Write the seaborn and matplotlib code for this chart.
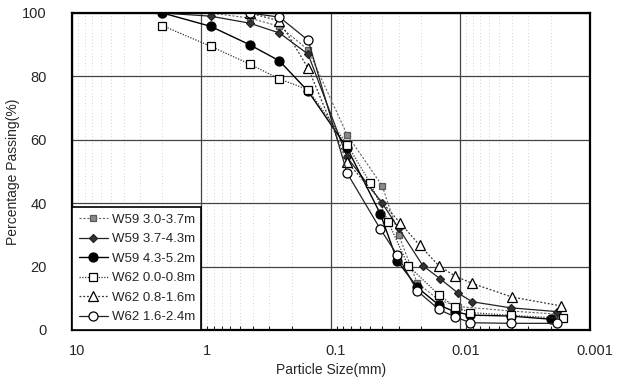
# grain size distribution curves, W59 / W62
import numpy as np
import pandas as pd
import matplotlib
matplotlib.use('Agg')
import matplotlib.pyplot as plt
import matplotlib.ticker as ticker
import matplotlib.transforms as mtransforms
import seaborn as sns

# data (particle size in mm, percent passing)
w59_30_size = [2.0, 0.85, 0.425, 0.25, 0.15, 0.075, 0.0402, 0.0300, 0.0216, 0.0147, 0.0104, 0.0041, 0.0018]
w59_30_pass = [100, 100, 98.4, 95.8, 88.4, 61.6, 45.5, 30.0, 14.9, 9.5, 7.4, 6.0, 5.0]

w59_37_size = [2.0, 0.85, 0.425, 0.25, 0.15, 0.075, 0.0402, 0.0300, 0.0195, 0.0143, 0.0104, 0.0081, 0.0041, 0.0018]
w59_37_pass = [100, 99.0, 96.8, 93.7, 87.0, 54.5, 40.0, 32.1, 20.3, 16.1, 11.6, 8.9, 7.0, 5.8]

w59_43_size = [2.0, 0.85, 0.425, 0.25, 0.15, 0.075, 0.0415, 0.0308, 0.0216, 0.0147, 0.0111, 0.0084, 0.0041, 0.0020]
w59_43_pass = [100, 95.8, 90.0, 84.9, 75.3, 57.4, 36.6, 21.9, 13.5, 7.9, 5.8, 4.7, 4.4, 3.4]

w62_00_size = [2.0, 0.85, 0.425, 0.25, 0.15, 0.075, 0.0496, 0.0362, 0.0253, 0.0147, 0.0111, 0.0084, 0.0041, 0.0016]
w62_00_pass = [96.0, 89.5, 83.9, 79.2, 75.8, 58.5, 46.3, 34.2, 20.3, 11.1, 7.4, 5.5, 4.6, 3.7]

w62_08_size = [0.425, 0.25, 0.15, 0.075, 0.0291, 0.0207, 0.0147, 0.0111, 0.0081, 0.0040, 0.00167]
w62_08_pass = [100, 97.5, 82.6, 53.0, 33.7, 26.8, 20.3, 17.1, 14.7, 10.4, 7.6]

w62_16_size = [0.425, 0.25, 0.15, 0.075, 0.0415, 0.0308, 0.0216, 0.0147, 0.0111, 0.0084, 0.0041, 0.0018]
w62_16_pass = [100, 98.7, 91.4, 49.5, 31.8, 23.7, 12.4, 6.5, 4.2, 2.3, 2.1, 2.1]

labels = ['W59 3.0-3.7m', 'W59 3.7-4.3m', 'W59 4.3-5.2m',
          'W62 0.0-0.8m', 'W62 0.8-1.6m', 'W62 1.6-2.4m']
sizes = [w59_30_size, w59_37_size, w59_43_size, w62_00_size, w62_08_size, w62_16_size]
passing = [w59_30_pass, w59_37_pass, w59_43_pass, w62_00_pass, w62_08_pass, w62_16_pass]

x_ticks = [10, 1, 0.1, 0.01, 0.001]
x_tick_labels = ['10', '1', '0.1', '0.01', '0.001']

# styles for each series: marker, face, edge, size, line style, line colour
styles = [
    dict(marker='s', mfc='#8a8a8a', mec='#5a5a5a', ms=5, ls=(0, (2, 1.5)), color='#666666', lw=0.8),
    dict(marker='D', mfc='#333333', mec='#222222', ms=4.5, ls='-', color='#222222', lw=0.9),
    dict(marker='o', mfc='black', mec='black', ms=6.5, ls='-', color='black', lw=1.0),
    dict(marker='s', mfc='white', mec='black', ms=5.5, ls=(0, (1, 1.2)), color='#333333', lw=0.9),
    dict(marker='^', mfc='white', mec='black', ms=6.5, ls=(0, (1.5, 1.5)), color='#333333', lw=0.9),
    dict(marker='o', mfc='white', mec='black', ms=6.5, ls='-', color='#222222', lw=0.9),
]

sns.set_style('white')
plt.rcParams['font.family'] = ['Liberation Sans', 'DejaVu Sans']

fig = plt.figure(figsize=(6.18, 3.80), dpi=100)
ax = fig.add_axes([0.1165, 0.1316, 0.838, 0.8342])

for lab, xs, ys, st in zip(labels, sizes, passing, styles):
    df = pd.DataFrame({'size': xs, 'passing': ys})
    sns.lineplot(data=df, x='size', y='passing', ax=ax, estimator=None, sort=False,
                 marker=st['marker'], markerfacecolor=st['mfc'], markeredgecolor=st['mec'],
                 markeredgewidth=0.9, markersize=st['ms'], linestyle=st['ls'],
                 color=st['color'], linewidth=st['lw'], label=lab)

ax.set_xscale('log')
ax.set_xlim(10, 0.001)
ax.set_ylim(0, 100)

ax.xaxis.set_major_locator(ticker.FixedLocator(x_ticks))
ax.xaxis.set_major_formatter(ticker.FixedFormatter(x_tick_labels))
ax.xaxis.set_minor_locator(ticker.LogLocator(base=10, subs=np.arange(2, 10)))
ax.xaxis.set_minor_formatter(ticker.NullFormatter())
ax.set_yticks([0, 20, 40, 60, 80, 100])

ax.grid(which='major', color='#444444', linewidth=0.9, linestyle='-')
ax.grid(which='minor', axis='x', color='#c4c4c4', linewidth=0.6, linestyle=(0, (1, 3)))
ax.set_axisbelow(True)

ax.tick_params(axis='x', which='major', length=0, pad=10, labelsize=10.5)
ax.tick_params(axis='x', which='minor', direction='in', length=3, width=0.8, bottom=True)
ax.tick_params(axis='y', which='major', length=0, pad=18, labelsize=10.5)

# labels in the scan sit a little right of their gridlines
offset = mtransforms.ScaledTranslation(5 / 100, 0, fig.dpi_scale_trans)
for lbl in ax.get_xticklabels():
    lbl.set_transform(lbl.get_transform() + offset)

for sp in ax.spines.values():
    sp.set_color('black')
    sp.set_linewidth(1.6)

ax.set_xlabel('Particle Size(mm)', fontsize=10, labelpad=4)
ax.set_ylabel('Percentage Passing(%)', fontsize=10)
ax.yaxis.set_label_coords(-0.1, 0.5)

leg = ax.legend(loc='lower left', bbox_to_anchor=(0, 0), borderaxespad=0, fontsize=9.5,
                frameon=True, fancybox=False, framealpha=1, edgecolor='black',
                handlelength=2.2, handletextpad=0.3, labelspacing=0.55, borderpad=0.5)
leg.get_frame().set_linewidth(1.2)

plt.savefig('out.png', dpi=100)
plt.close()
